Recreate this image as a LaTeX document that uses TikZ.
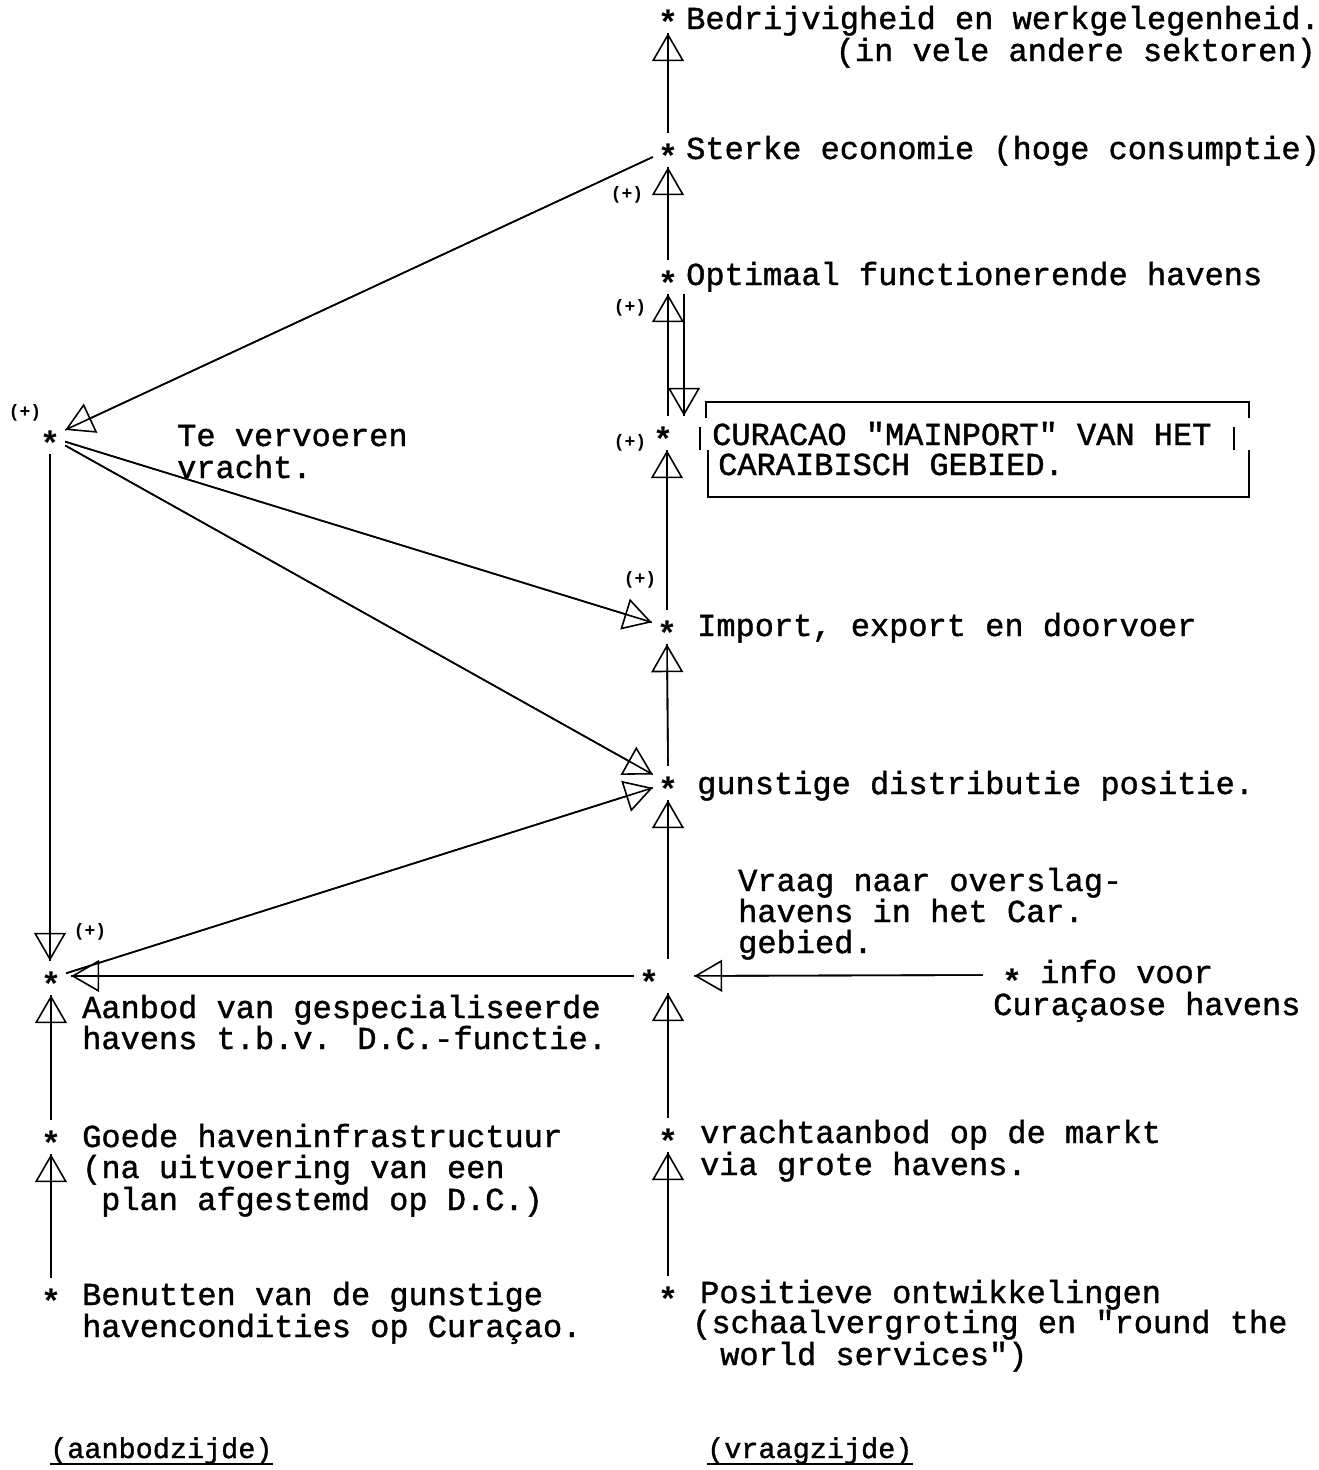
\documentclass[tikz,border=0pt]{standalone}
\usepackage{fontspec}
\usetikzlibrary{arrows.meta,calc}
\newfontfamily\cour[FakeBold=1.2]{Liberation Mono}
\newfontfamily\courmark{Liberation Mono Bold}

\tikzset{
  txt/.style={font=\cour\fontsize{32}{31}\selectfont, inner sep=0pt, anchor=base west},
  txtr/.style={font=\cour\fontsize{32}{31}\selectfont, inner sep=0pt, anchor=base east},
  side/.style={font=\cour\fontsize{28.5}{30}\selectfont, inner sep=0pt, anchor=base west},
  sign/.style={font=\courmark\fontsize{18}{18}\selectfont, inner sep=0pt},
  knot/.style={font=\courmark\fontsize{34}{31}\selectfont, inner sep=0pt,
               minimum width=30pt, minimum height=34pt,
               text height=0pt, text depth=0pt},
  link/.style={line width=1.6pt,
               postaction={draw, -{Triangle[open, length=28pt, width=32pt, line width=1.6pt]}}},
  frame/.style={line width=1.6pt}
}
\newcommand{\knotmark}{\raisebox{-18pt}{*}}

\begin{document}
\begin{tikzpicture}[x=1pt, y=-1pt]
\fill[white] (0,0) rectangle (1318,1470);
\useasboundingbox (0,0) rectangle (1318,1470);

% ---- points (asterisks) ----
\node[knot] (bed)    at (668,16)   {\knotmark};
\node[knot] (sterke) at (668,150)  {\knotmark};
\node[knot] (opt)    at (668,277)  {\knotmark};
\node[knot] (cur)    at (663,433)  {\knotmark};
\node[knot] (imp)    at (667,627)  {\knotmark};
\node[knot] (gun)    at (668,783)  {\knotmark};
\node[knot] (mid)    at (649,976)  {\knotmark};
\node[knot, minimum height=16pt] (info) at (1012,975) {\knotmark};
\node[knot] (vra)    at (668,1135) {\knotmark};
\node[knot] (pos)    at (668,1293) {\knotmark};
\node[knot] (verv)   at (50,437)   {\knotmark};
\node[knot] (aan)    at (51,978)   {\knotmark};
\node[knot] (goede)  at (51,1137)  {\knotmark};
\node[knot] (ben)    at (51,1295)  {\knotmark};

% ---- texts ----
\node[txt]  (bedA) at (686,29)   {Bedrijvigheid en werkgelegenheid.};
\node[txtr] (bedB) at (1316,61)  {(in vele andere sektoren)};
\node[txt]  (stA)  at (686,159)  {Sterke economie (hoge consumptie)};
\node[txt]  (opA)  at (686,285)  {Optimaal functionerende havens};
\node[txt]  (cuA)  at (712,445)  {CURACAO "MAINPORT" VAN HET};
\node[txt]  (cuB)  at (718,475)  {CARAIBISCH GEBIED.};
\node[txt]  (teA)  at (177,446)  {Te vervoeren};
\node[txt]  (teB)  at (177,478)  {vracht.};
\node[txt]  (imA)  at (697,636)  {Import, export en doorvoer};
\node[txt]  (guA)  at (697,794)  {gunstige distributie positie.};
\node[txt]  (vqA)  at (738,891)  {Vraag naar overslag-};
\node[txt]  (vqB)  at (738,922)  {havens in het Car.};
\node[txt]  (vqC)  at (738,953)  {gebied.};
\node[txt]  (inA)  at (1040,983) {info voor};
\node[txt]  (inB)  at (993,1015) {Curaçaose havens};
\node[txt]  (aaA)  at (82,1018)  {Aanbod van gespecialiseerde};
\node[txt]  (aaB)  at (82,1049)  {havens t.b.v. D.C.-functie.};
\node[txt]  (goA)  at (82,1147)  {Goede haveninfrastructuur};
\node[txt]  (goB)  at (82,1178)  {(na uitvoering van een};
\node[txt]  (goC)  at (101,1210) {plan afgestemd op D.C.)};
\node[txt]  (vrA)  at (700,1143) {vrachtaanbod op de markt};
\node[txt]  (vrB)  at (700,1175) {via grote havens.};
\node[txt]  (beA)  at (82,1305)  {Benutten van de gunstige};
\node[txt]  (beB)  at (82,1337)  {havencondities op Curaçao.};
\node[txt]  (poA)  at (700,1303) {Positieve ontwikkelingen};
\node[txt]  (poB)  at (692,1333) {(schaalvergroting en "round the};
\node[txt]  (poC)  at (720,1365) {world services")};
\node[side] (aSide) at (50,1458)  {(aanbodzijde)};
\node[side] (vSide) at (707,1458) {(vraagzijde)};
\draw[line width=1.4pt] (aSide.south west) -- (aSide.south east);
\draw[line width=1.4pt] (vSide.south west) -- (vSide.south east);

% ---- (+) signs ----
\node[sign] (p1) at (627,195) {(+)};
\node[sign] (p2) at (630,308) {(+)};
\node[sign] (p3) at (630,443) {(+)};
\node[sign] (p4) at (640,580) {(+)};
\node[sign] (p5) at (25,413)  {(+)};
\node[sign] (p6) at (90,932)  {(+)};

% ---- frame round the mainport statement ----
\draw[frame] (706,418) -- (706,402) -- (1249,402) -- (1249,418);
\draw[frame] (700,427) -- (700,450);
\draw[frame] (1234,427) -- (1234,450);
\draw[frame] (708,450) -- (708,497) -- (1249,497) -- (1249,450);

% ---- right column ----
\draw[link] (sterke.north) -- (bed.south);
\draw[link] (opt.north) -- (sterke.south);
\draw[link] (opt.south |- cur.north) -- (opt.south);
\draw[link] ([xshift=16pt]opt.south) -- ([xshift=16pt]opt.south |- cur.north);
\draw[link] (imp.north) -- (imp.north |- cur.south);
\draw[link] (gun.north) -- (imp.south);
\draw[link] (mid.north -| gun.south) -- (gun.south);
\draw[link] (vra.north) -- (vra.north |- mid.south);
\draw[link] (pos.north) -- (vra.south);
\draw[link, shorten <=14pt, shorten >=30pt] (info.west) -- (mid.east);

% ---- left column ----
\draw[link, shorten >=5pt] (mid.west) -- (mid.west -| aan.east);
\draw[link] (goede.north) -- (aan.south);
\draw[link] (ben.north) -- (goede.south);
\draw[link] (verv.south) -- (verv.south |- aan.north);

% ---- diagonals ----
\draw[link] (sterke) -- (verv);
\draw[link] (verv) -- (imp);
\draw[link] (verv) -- (gun);
\draw[link] (aan) -- (gun);
\end{tikzpicture}
\end{document}
